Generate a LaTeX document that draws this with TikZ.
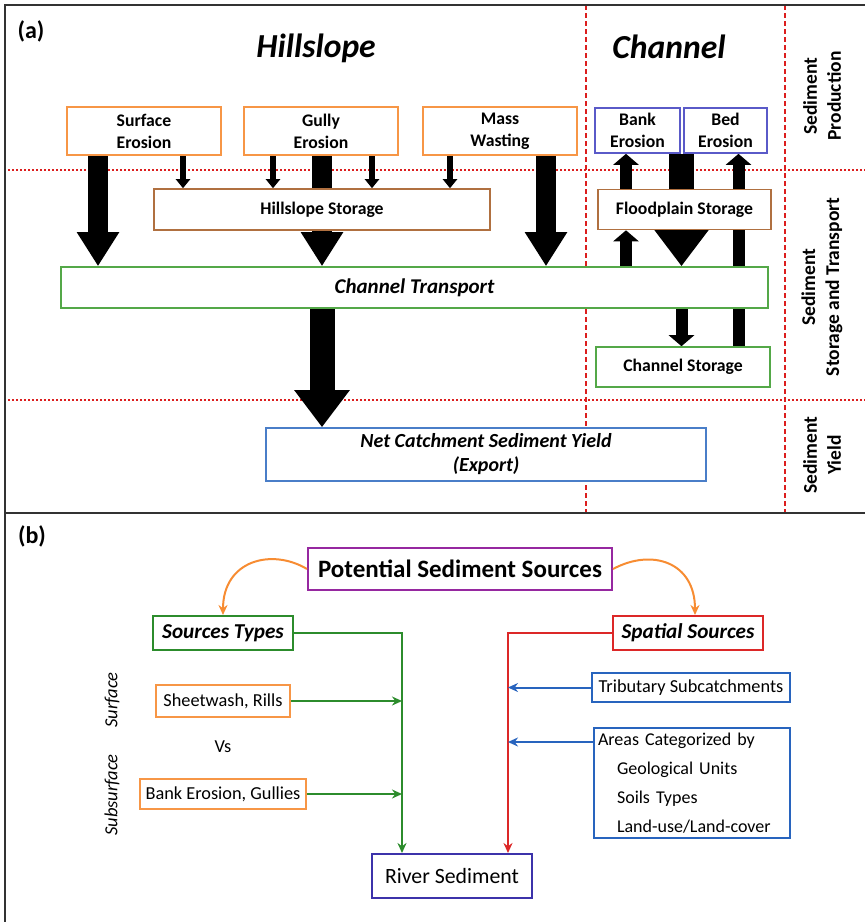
\documentclass[tikz,border=0pt]{standalone}
\usepackage{fontspec}
\setmainfont{Carlito}
\usetikzlibrary{arrows.meta,backgrounds}
\definecolor{orangebox}{RGB}{247,150,70}
\definecolor{brownbox}{RGB}{176,112,64}
\definecolor{greena}{RGB}{84,168,72}
\definecolor{greenb}{RGB}{44,140,44}
\definecolor{violetbox}{RGB}{90,90,200}
\definecolor{steelbox}{RGB}{74,126,200}
\definecolor{purplebox}{RGB}{150,40,160}
\definecolor{redbox}{RGB}{220,40,40}
\definecolor{riverbox}{RGB}{60,50,170}
\definecolor{tribbox}{RGB}{40,100,190}
\definecolor{curveorange}{RGB}{247,140,50}
\definecolor{zonered}{RGB}{220,30,30}
\definecolor{framegray}{RGB}{50,50,50}

\begin{document}
\begin{tikzpicture}[x=1pt,y=-1pt,
  box/.style={draw,fill=white,line width=1.6pt,inner sep=0pt,align=center},
  boxa/.style={box,font=\fontsize{17.7}{22}\selectfont\bfseries},
  boxit/.style={box,font=\fontsize{20}{24}\selectfont\bfseries\itshape},
  boxb/.style={box,line width=2pt,font=\fontsize{18.3}{21}\selectfont},
  zone/.style={align=center,rotate=90,font=\fontsize{19.5}{24}\selectfont\bfseries},
  dotline/.style={zonered,line width=1.5pt,dash pattern=on 1.5pt off 2.5pt},
  dashline/.style={zonered,line width=1.6pt,dash pattern=on 5pt off 3pt},
  hugearr/.style={line width=25pt,-{Triangle[width=53pt,length=37pt]}},
  bigarr/.style={line width=20pt,-{Triangle[width=40pt,length=34pt]}},
  midarr/.style={line width=12pt,-{Triangle[width=25pt,length=11pt]}},
  smallarr/.style={line width=6pt,-{Triangle[width=14pt,length=9pt]}},
  flow/.style={line width=2pt,-{Stealth[length=10pt,width=9pt]}}]
\useasboundingbox (0,0) rectangle (865,922);

\node[font=\fontsize{24}{28}\selectfont\bfseries] (lbla) at (31,31) {(a)};
\node[font=\fontsize{33.6}{38}\selectfont\bfseries\itshape] (hill) at (316,48) {Hillslope};
\node[font=\fontsize{33.6}{38}\selectfont\bfseries\itshape] (chan) at (669,47) {Channel};

\node[boxa,draw=orangebox,minimum width=154pt,minimum height=48pt] (surf) at (144,131) {Surface\\Erosion};
\node[boxa,draw=orangebox,minimum width=154pt,minimum height=48pt] (gully) at (321,131) {Gully\\Erosion};
\node[boxa,draw=orangebox,minimum width=154pt,minimum height=48pt] (mass) at (500,131) {Mass\\Wasting};
\node[boxa,draw=violetbox,minimum width=85pt,minimum height=45pt] (bank) at (637.5,130.5) {Bank\\Erosion};
\node[boxa,draw=violetbox,minimum width=83pt,minimum height=45pt] (bed) at (725.5,130.5) {Bed\\Erosion};
\node[boxa,draw=brownbox,minimum width=336pt,minimum height=41pt] (hstore) at (322,209.5) {Hillslope Storage};
\node[boxa,draw=brownbox,minimum width=173pt,minimum height=40pt] (fstore) at (684.5,209.5) {Floodplain Storage};
\node[boxit,draw=greena,minimum width=707pt,minimum height=41pt,font=\fontsize{21}{24}\selectfont\bfseries\itshape] (trans) at (414.5,287.5) {Channel Transport};
\node[boxa,draw=greena,minimum width=174pt,minimum height=40pt] (cstore) at (683,367) {Channel Storage};
\node[boxit,draw=steelbox,minimum width=440pt,minimum height=53pt] (yield) at (486,454.5) {Net Catchment Sediment Yield\\(Export)};

\node[zone] (prod) at (822,96) {Sediment\\Production};
\node[zone] (stor) at (822,287) {Sediment\\Storage and Transport};
\node[zone] (yld) at (822,455) {Sediment\\Yield};

\coordinate (c1) at (98,0);
\coordinate (c2) at (322,0);
\coordinate (c3) at (546,0);
\coordinate (s1) at (183,0);
\coordinate (s2) at (273,0);
\coordinate (s3) at (372,0);
\coordinate (s4) at (450,0);
\coordinate (b1) at (626,0);
\coordinate (b2) at (681.5,0);
\coordinate (b3) at (738.5,0);

\node[font=\fontsize{24}{28}\selectfont\bfseries] (lblb) at (32,536) {(b)};
\node[box,draw=purplebox,line width=2pt,minimum width=304pt,minimum height=42pt,font=\fontsize{25}{29}\selectfont\bfseries] (pot) at (460,569) {Potential Sediment Sources};
\node[box,draw=greenb,line width=2pt,minimum width=140pt,minimum height=34pt,font=\fontsize{21.2}{25}\selectfont\bfseries\itshape] (types) at (223,633) {Sources Types};
\node[box,draw=redbox,line width=2pt,minimum width=150pt,minimum height=34pt,font=\fontsize{21.2}{25}\selectfont\bfseries\itshape] (spatial) at (688,633) {Spatial Sources};
\node[boxb,draw=orangebox,minimum width=134pt,minimum height=32pt] (sheet) at (223,701) {Sheetwash, Rills};
\node[boxb,draw=orangebox,minimum width=166pt,minimum height=30pt] (gullies) at (223,794) {Bank Erosion, Gullies};
\node[font=\fontsize{18.3}{21}\selectfont] (vs) at (223,747) {Vs};
\node[rotate=90,font=\fontsize{18.5}{21}\selectfont\itshape] (surfl) at (112,700) {Surface};
\node[rotate=90,font=\fontsize{18.5}{21}\selectfont\itshape] (subl) at (112,795) {Subsurface};
\node[box,draw=riverbox,line width=2pt,minimum width=160pt,minimum height=44pt,font=\fontsize{21.8}{25}\selectfont] (river) at (452,876) {River Sediment};
\node[boxb,draw=tribbox,minimum width=198pt,minimum height=29pt] (trib) at (691,687.5) {Tributary Subcatchments};
\node[boxb,draw=tribbox,align=left,inner xsep=4pt,text width=188pt,minimum height=110pt,font=\fontsize{18}{29}\selectfont] (areas) at (692,783) {Areas Categorized by\\\hspace*{19pt}Geological Units\\\hspace*{19pt}Soils Types\\\hspace*{19pt}Land-use/Land-cover};

\coordinate (gx) at (402,0);
\coordinate (rx) at (508,0);
\coordinate (aw) at ([yshift=-15pt]areas.north west);

\begin{scope}[on background layer]
\draw[dotline] (8,170) -- (865,170);
\draw[dotline] (8,400) -- (865,400);
\draw[dashline] (586,5) -- (586,513);
\draw[dashline] (785,5) -- (785,513);
\draw[bigarr] (surf.south -| c1) -- (trans.north -| c1);
\draw[bigarr] (gully.south -| c2) -- (trans.north -| c2);
\draw[bigarr] (mass.south -| c3) -- (trans.north -| c3);
\draw[smallarr] (surf.south -| s1) -- (hstore.north -| s1);
\draw[smallarr] (gully.south -| s2) -- (hstore.north -| s2);
\draw[smallarr] (gully.south -| s3) -- (hstore.north -| s3);
\draw[smallarr] (mass.south -| s4) -- (hstore.north -| s4);
\draw[hugearr] (trans.south -| c2) -- (yield.north -| c2);
\draw[hugearr] (bank.south -| b2) -- (trans.north -| b2);
\draw[midarr] (fstore.north -| b1) -- (bank.south -| b1);
\draw[midarr] (trans.north -| b1) -- (fstore.south -| b1);
\draw[midarr] (trans.south -| b2) -- (cstore.north -| b2);
\draw[midarr] (cstore.north -| b3) -- (bed.south -| b3);
\end{scope}

\draw[flow,curveorange] (pot.west) .. controls (272,548) and (223,560) .. (types.north);
\draw[flow,curveorange] (pot.east) .. controls (652,548) and (695,562) .. ([xshift=7pt]spatial.north);
\draw[flow,greenb] (types.east) -| (river.north -| gx);
\draw[flow,greenb] (sheet.east) -- (sheet.east -| gx);
\draw[flow,greenb] (gullies.east) -- (gullies.east -| gx);
\draw[flow,redbox] (spatial.west) -| (river.north -| rx);
\draw[flow,tribbox] (trib.west) -- (trib.west -| rx);
\draw[flow,tribbox] (aw) -- (aw -| rx);

\draw[framegray,line width=2.5pt] (865,5) -- (5,5) -- (5,922);
\draw[framegray,line width=2.5pt] (5,513) -- (865,513);
\end{tikzpicture}
\end{document}
